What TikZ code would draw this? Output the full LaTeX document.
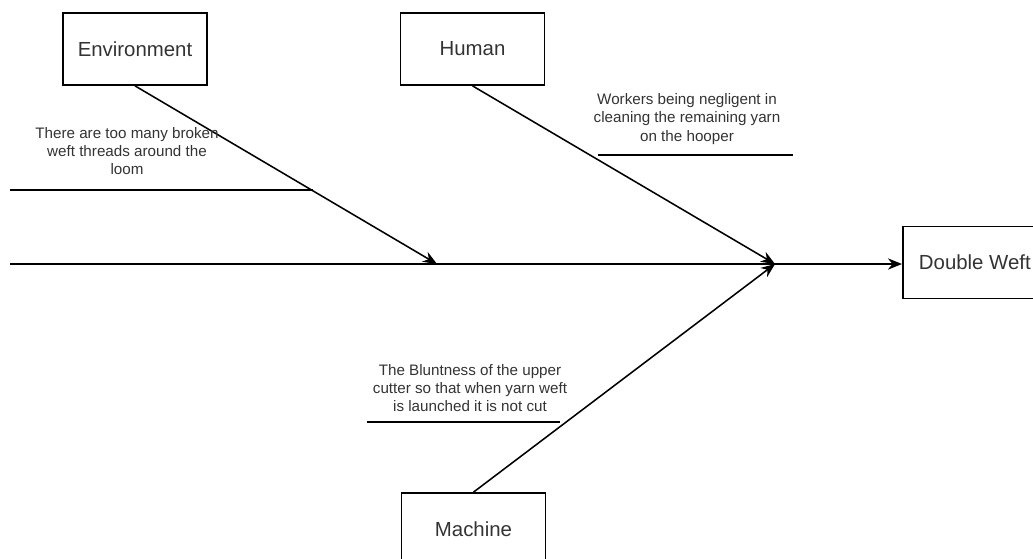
\documentclass[tikz,border=0pt]{standalone}
\usepackage{fontspec}
\setmainfont{Liberation Sans}
\usetikzlibrary{arrows.meta}
\definecolor{ink}{HTML}{333333}

\begin{document}
\begin{tikzpicture}[
  x=0.025cm,y=-0.025cm,
  box/.style={draw=black,line width=1.2pt,minimum width=3.6cm,minimum height=1.8cm,inner sep=0pt,font=\fontsize{14.5}{17}\selectfont\color{ink}},
  cause/.style={align=center,inner sep=0pt,font=\fontsize{10.8}{13}\selectfont\color{ink}},
  bone/.style={draw=black,line width=1.1pt},
  rib/.style={draw=black,line width=1.1pt},
  tip/.style={-{Stealth[length=10pt,width=8pt]}},
]
\useasboundingbox (0,0) rectangle (1033,559);
\clip (0,0) rectangle (1033,559);

% categories and effect
\node[box] (env) at (135,49) {Environment};
\node[box] (hum) at (472.5,49) {Human};
\node[box] (mach) at (473.5,529) {Machine};
\node[box,anchor=west] (effect) at (902,262.5) {Double Weft};

% spine
\coordinate (tail) at (10,264);
\coordinate (mid) at (437,264);
\coordinate (head) at (775,264);
\draw[bone,tip] (tail) -- (effect.west |- tail);

% branches
\draw[bone,tip] (env.south) -- (mid);
\draw[bone,tip] (hum.south) -- (head);
\draw[bone,tip] (mach.north) -- (head);

% causes
\node[cause] (envc) at (127,151) {There are too many broken\\weft threads around the\\loom};
\coordinate (envL) at (10,190);
\coordinate (envR) at (313,190);
\draw[rib] (envL) -- (envR);

\node[cause] (humc) at (687,119) {Workers being negligent in\\cleaning the remaining yarn\\on the hooper};
\coordinate (humL) at (598,155);
\coordinate (humR) at (793,155);
\draw[rib] (humL) -- (humR);

\node[cause] (machc) at (470,388) {The Bluntness of the upper\\cutter so that when yarn weft\\is launched it is not cut};
\coordinate (machL) at (367,422);
\coordinate (machR) at (560,422);
\draw[rib] (machL) -- (machR);
\end{tikzpicture}
\end{document}
